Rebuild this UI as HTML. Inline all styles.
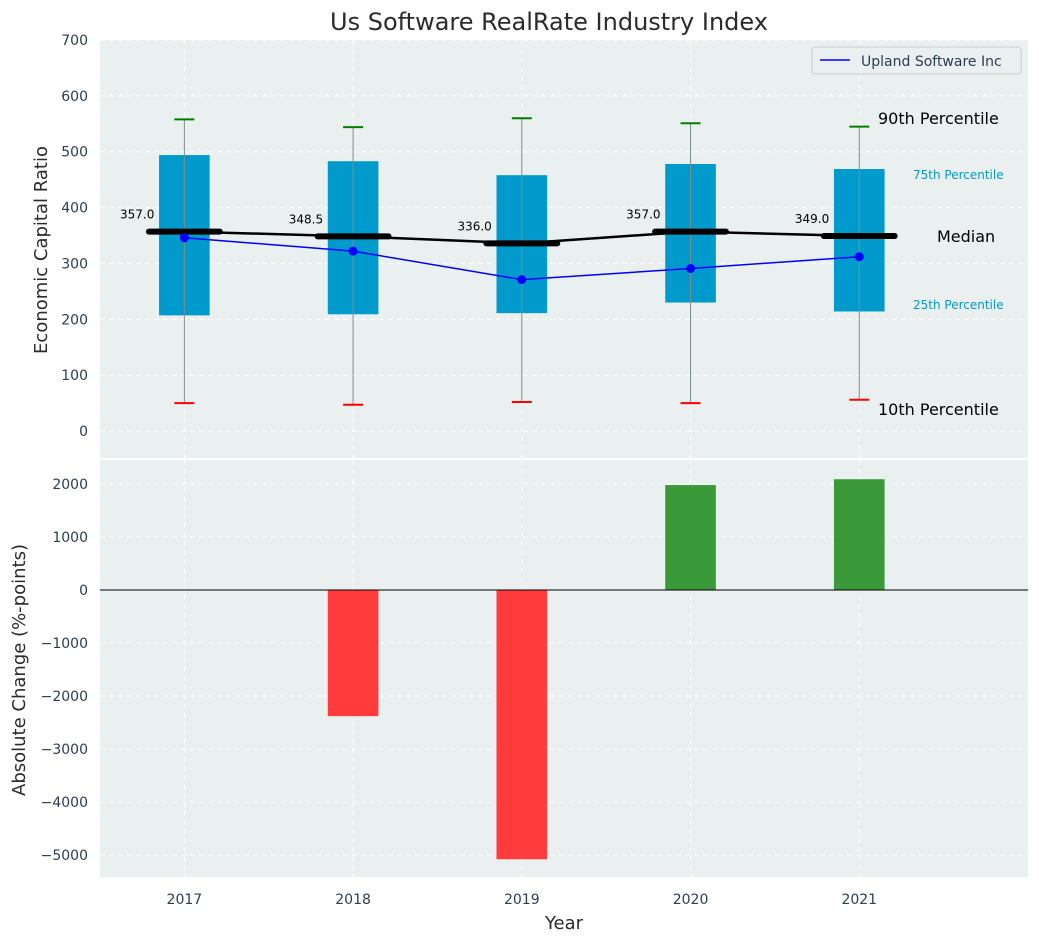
<!DOCTYPE html>
<html><head><meta charset="utf-8"><style>
body{margin:0;background:#fff;font-family:"Liberation Sans","DejaVu Sans",sans-serif}
svg text{font-family:"DejaVu Sans","Liberation Sans",sans-serif}
</style></head><body>
<svg id="c" width="1039" height="942" xmlns="http://www.w3.org/2000/svg"></svg>
<script>
const years=[2017,2018,2019,2020,2021];
const p10=[50,47,52,50,56];
const p25=[207,209,211,230,214];
const med=[357,348.5,336,357,349];
const p75=[494,483,458,478,469];
const p90=[558,544,560,551,545];
const company=[346,322,271,291,312];
const change=[0,-2380,-5080,1980,2090];
const yTicks1=[0,100,200,300,400,500,600,700];
const yTicks2=[-5000,-4000,-3000,-2000,-1000,0,1000,2000];
const S='http://www.w3.org/2000/svg',svg=document.getElementById('c');
function el(t,a,txt){const e=document.createElementNS(S,t);for(const k in a)e.setAttribute(k,a[k]);if(txt!==undefined)e.textContent=txt;svg.appendChild(e);return e;}
const L=100,R=1028;
const x=v=>L+(v-2016.5)/(2022-2016.5)*(R-L);
const y1=v=>431-v*(431-40)/700;
const y2=v=>590-v*0.053;
let e=el('rect',{x:L,y:40,width:R-L,height:418,fill:'#eaeff0'});

e=el('rect',{x:L,y:460,width:R-L,height:417,fill:'#eaeff0'});

yTicks1.forEach(t=>{el('line',{x1:L,x2:R,y1:y1(t),y2:y1(t),stroke:'#fff','stroke-dasharray':'5,4'});
 e=el('text',{x:88,y:y1(t)+5,'text-anchor':'end','font-size':14,fill:'#2b3e50'},t);
 });
yTicks2.forEach(t=>{el('line',{x1:L,x2:R,y1:y2(t),y2:y2(t),stroke:'#fff','stroke-dasharray':'5,4'});
 e=el('text',{x:88,y:y2(t)+5,'text-anchor':'end','font-size':14,fill:'#2b3e50'},t<0?'\u2212'+(-t):t);
 });
years.forEach(yr=>{el('line',{x1:x(yr),x2:x(yr),y1:40,y2:458,stroke:'#fff','stroke-dasharray':'5,4'});
 el('line',{x1:x(yr),x2:x(yr),y1:460,y2:877,stroke:'#fff','stroke-dasharray':'5,4'});
 e=el('text',{x:x(yr),y:904,'text-anchor':'middle','font-size':14,fill:'#2b3e50'},yr);
 });
const bw=0.3*(R-L)/5.5, mh=0.21*(R-L)/5.5;
years.forEach((yr,i)=>{const cx=x(yr);
 e=el('rect',{x:cx-bw/2,y:y1(p75[i]),width:bw,height:y1(p25[i])-y1(p75[i]),fill:'#009acd'});
 
 e=el('line',{x1:cx,x2:cx,y1:y1(p10[i]),y2:y1(p90[i]),stroke:'#7f8c8d','stroke-width':1});
 
 el('line',{x1:cx-10,x2:cx+10,y1:y1(p90[i]),y2:y1(p90[i]),stroke:'green','stroke-width':2});
 el('line',{x1:cx-10,x2:cx+10,y1:y1(p10[i]),y2:y1(p10[i]),stroke:'red','stroke-width':2});
 e=el('line',{x1:cx-mh,x2:cx+mh,y1:y1(med[i]),y2:y1(med[i]),stroke:'#000','stroke-width':6,'stroke-linecap':'round'});
 
 e=el('text',{x:cx-30,y:y1(med[i])-13,'text-anchor':'end','font-size':12,fill:'#000'},med[i].toFixed(1));
 
 const v=change[i];
 if(v!==0){e=el('rect',{x:cx-bw/2,y:Math.min(y2(v),y2(0)),width:bw,height:Math.abs(y2(v)-y2(0)),fill:v<0?'#ff3b3b':'#3a9a3a'});
 }
});
e=el('polyline',{points:years.map((yr,i)=>x(yr)+','+y1(med[i])).join(' '),fill:'none',stroke:'#000','stroke-width':2.5});

e=el('polyline',{points:years.map((yr,i)=>x(yr)+','+y1(company[i])).join(' '),fill:'none',stroke:'blue','stroke-width':1.5});

years.forEach((yr,i)=>{e=el('circle',{cx:x(yr),cy:y1(company[i]),r:4.5,fill:'blue'});
 });
el('line',{x1:L,x2:R,y1:y2(0),y2:y2(0),stroke:'#000','stroke-width':1});
[['90th Percentile',878,124,16,'#000'],['75th Percentile',913,179,12,'#009acd'],['Median',937,242,16,'#000'],['25th Percentile',913,309,12,'#009acd'],['10th Percentile',878,415,16,'#000']].forEach(a=>{
 e=el('text',{x:a[1],y:a[2],'font-size':a[3],fill:a[4]},a[0]);});
e=el('rect',{x:812,y:47,width:209,height:27,fill:'#eaeff0',stroke:'#ccc',rx:3});

el('line',{x1:820,x2:850,y1:60,y2:60,stroke:'blue','stroke-width':1.5});
e=el('text',{x:861,y:66,'font-size':14,fill:'#2b3e50'},'Upland Software Inc');

e=el('text',{x:549,y:30,'text-anchor':'middle','font-size':24,fill:'#2b2b2b'},'Us Software RealRate Industry Index');

e=el('text',{x:564,y:929,'text-anchor':'middle','font-size':18,fill:'#2b2b2b'},'Year');

e=el('text',{x:0,y:0,'text-anchor':'middle','font-size':18,fill:'#2b2b2b',transform:'translate(47,250) rotate(-90)'},'Economic Capital Ratio');

e=el('text',{x:0,y:0,'text-anchor':'middle','font-size':18,fill:'#2b2b2b',transform:'translate(25,670) rotate(-90)'},'Absolute Change (%-points)');

</script>
</body></html>
